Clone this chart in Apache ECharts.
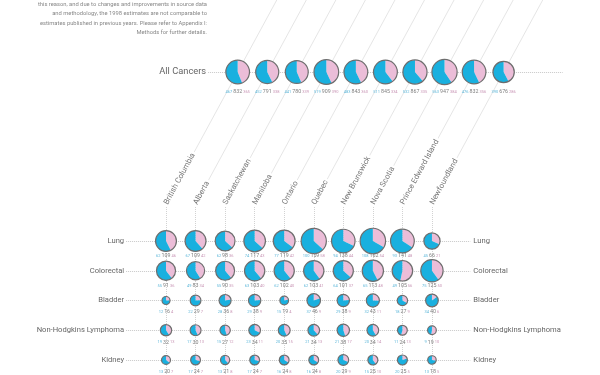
<!DOCTYPE html>
<html>
<head>
<meta charset="utf-8">
<script src="https://cdn.jsdelivr.net/npm/echarts@6/dist/echarts.min.js"></script>
<style>
  html, body { margin: 0; padding: 0; background: #fff; }
  #chart { width: 600px; height: 375px; }
</style>
</head>
<body>
<div id="chart"></div>
<script>
// provinces, west to east
const provinces = ['British Columbia', 'Alberta', 'Saskatchewan', 'Manitoba', 'Ontario', 'Quebec',
  'New Brunswick', 'Nova Scotia', 'Prince Edward Island', 'Newfoundland'];
const cancers = ['Lung', 'Colorectal', 'Bladder', 'Non-Hodgkins Lymphoma', 'Kidney'];

// rates: male / total / female
const allMale = [467, 452, 441, 519, 483, 511, 532, 563, 476, 390];
const allTotal = [832, 791, 780, 909, 843, 845, 867, 947, 832, 676];
const allFemale = [365, 338, 339, 390, 360, 334, 335, 384, 356, 286];

const lungMale = [62, 67, 62, 74, 77, 100, 94, 108, 93, 45];
const lungTotal = [109, 109, 98, 117, 119, 159, 138, 162, 141, 66];
const lungFemale = [46, 42, 36, 43, 42, 58, 44, 54, 48, 21];

const colorectalMale = [55, 49, 55, 63, 62, 62, 64, 65, 49, 75];
const colorectalTotal = [91, 83, 90, 103, 102, 103, 101, 113, 105, 125];
const colorectalFemale = [36, 34, 35, 40, 40, 41, 37, 48, 56, 50];

const bladderMale = [12, 22, 28, 29, 15, 37, 29, 32, 18, 34];
const bladderTotal = [16, 29, 36, 38, 19, 46, 38, 43, 27, 40];
const bladderFemale = [4, 7, 8, 9, 4, 9, 9, 11, 9, 6];

const nhlMale = [19, 17, 15, 23, 20, 21, 21, 20, 11, 9];
const nhlTotal = [32, 30, 27, 34, 35, 34, 38, 34, 24, 19];
const nhlFemale = [13, 13, 12, 11, 15, 13, 17, 14, 13, 10];

const kidneyMale = [13, 17, 13, 17, 16, 16, 20, 15, 20, 13];
const kidneyTotal = [20, 24, 21, 24, 24, 24, 29, 25, 25, 18];
const kidneyFemale = [7, 7, 8, 7, 8, 8, 9, 10, 5, 5];

const noteLines = [
  'this reason, and due to changes and improvements in source data',
  'and methodology, the 1998 estimates are not comparable to',
  'estimates published in previous years. Please refer to Appendix I:',
  'Methods for further details.'
];

// layout
const BLUE = '#19b0df';
const PINK = '#ebbdd8';
const colStep = 29.55;
const col0 = 166;
const labelBaseY = 204;
const allRowY = 72;
const tilt = 61.5 * Math.PI / 180;
const shift = (labelBaseY - allRowY) / Math.tan(tilt);
const rowLabelGap = [15, 15, 11, 12, 12];
const font = 'Roboto, "Liberation Sans", sans-serif';

const rows = [
  [lungMale, lungTotal, lungFemale],
  [colorectalMale, colorectalTotal, colorectalFemale],
  [bladderMale, bladderTotal, bladderFemale],
  [nhlMale, nhlTotal, nhlFemale],
  [kidneyMale, kidneyTotal, kidneyFemale]
];

const rowData = [];
rows.forEach((r, j) => {
  provinces.forEach((p, i) => rowData.push([i, j, r[0][i], r[1][i], r[2][i]]));
});
const allData = provinces.map((p, i) => [i, 0, allMale[i], allTotal[i], allFemale[i]]);

function pieRenderer(scale, gap) {
  return function (params, api) {
    const c = api.coord([api.value(0), api.value(1)]);
    const m = api.value(2), t = api.value(3), f = api.value(4);
    const r = scale * Math.sqrt(t);
    const a0 = -Math.PI / 2;
    const a1 = a0 + 2 * Math.PI * f / (m + f);
    return {
      type: 'group',
      children: [
        { type: 'sector', shape: { cx: c[0], cy: c[1], r: r, startAngle: a0, endAngle: a1, clockwise: true },
          style: { fill: PINK } },
        { type: 'sector', shape: { cx: c[0], cy: c[1], r: r, startAngle: a1, endAngle: a0 + 2 * Math.PI, clockwise: true },
          style: { fill: BLUE } },
        { type: 'circle', shape: { cx: c[0], cy: c[1], r: r },
          style: { fill: 'none', stroke: '#6e6e6e', lineWidth: 1.2 } },
        { type: 'text', x: c[0], y: c[1] + gap(api.value(1)),
          style: {
            text: '{m|' + m + ' }{t|' + t + '}{f| ' + f + '}',
            align: 'center', verticalAlign: 'middle', fontFamily: font, fontSize: 4,
            rich: {
              m: { fill: '#5fb8da', fontSize: 4, fontFamily: font },
              t: { fill: '#808080', fontSize: 5.3, fontFamily: font },
              f: { fill: '#c996b6', fontSize: 4, fontFamily: font }
            }
          } }
      ]
    };
  };
}

const chart = echarts.init(document.getElementById('chart'));

const option = {
  animation: false,
  backgroundColor: '#fff',
  textStyle: { fontFamily: font },
  graphic: noteLines.map((s, k) => ({
    type: 'text', right: 393, top: 1.5 + k * 9.3,
    style: { text: s, fill: '#888', fontSize: 5.8, fontFamily: font, align: 'right' }
  })),
  grid: [
    { // cancer rows
      left: col0 - 1.35 * colStep, width: 11.65 * colStep, top: 241, height: 119,
      outerBoundsMode: 'none', containLabel: false
    },
    { // province labels + vertical guides
      left: col0, width: 9 * colStep, top: labelBaseY + 3, height: 375 - labelBaseY - 3,
      outerBoundsMode: 'none', containLabel: false
    },
    { // all cancers
      left: col0 + shift - colStep, width: 12 * colStep, top: allRowY - 15, height: 30,
      outerBoundsMode: 'none', containLabel: false
    }
  ],
  xAxis: [
    { gridIndex: 0, type: 'value', min: -1.35, max: 10.3, show: false },
    {
      gridIndex: 1, type: 'category', data: provinces, boundaryGap: false, position: 'top',
      axisLine: { show: false }, axisTick: { show: false },
      axisLabel: {
        rotate: 61.5, margin: 3, interval: 0, color: '#777', fontSize: 7.8, fontFamily: font,
        backgroundColor: '#fff', padding: [0, 2, 0, 0]
      },
      splitLine: { show: true, interval: 0, lineStyle: { type: 'dotted', color: '#d2d2d2', width: 1 } }
    },
    { gridIndex: 2, type: 'value', min: -1, max: 11, show: false }
  ],
  yAxis: [
    {
      gridIndex: 0, type: 'category', data: cancers, boundaryGap: false, inverse: true,
      axisLine: { show: false }, axisTick: { show: false },
      axisLabel: { margin: 2, color: '#666', fontSize: 7.6, fontFamily: font, interval: 0 },
      splitLine: { show: true, interval: 0, lineStyle: { type: 'dotted', color: '#c8c8c8', width: 1 } }
    },
    {
      gridIndex: 0, type: 'category', data: cancers, boundaryGap: false, inverse: true, position: 'right',
      axisLine: { show: false }, axisTick: { show: false },
      axisLabel: { margin: 3, color: '#666', fontSize: 7.6, fontFamily: font, interval: 0 },
      splitLine: { show: false }
    },
    { gridIndex: 1, type: 'value', min: 0, max: 1, show: false },
    {
      gridIndex: 2, type: 'value', min: -1, max: 1, interval: 1,
      axisLine: { show: false }, axisTick: { show: false },
      axisLabel: {
        margin: 2, color: '#666', fontSize: 9.3, fontFamily: font,
        formatter: v => (v === 0 ? 'All Cancers' : '')
      },
      splitLine: {
        show: true, showMinLine: false, showMaxLine: false,
        lineStyle: { type: 'dotted', color: '#c8c8c8', width: 1 }
      }
    }
  ],
  series: [
    { // diagonal leaders from province labels up through all-cancer pies
      type: 'custom', xAxisIndex: 1, yAxisIndex: 2, z: -1, silent: true,
      data: provinces.map((p, i) => [i]),
      renderItem: (params, api) => {
        const p = api.coord([api.value(0), 1]);
        const y0 = p[1] - 3;
        return {
          type: 'line',
          shape: { x1: p[0], y1: y0, x2: p[0] + y0 / Math.tan(tilt), y2: 0 },
          style: { stroke: '#e2e2e2', lineWidth: 0.9 }
        };
      }
    },
    {
      type: 'custom', xAxisIndex: 2, yAxisIndex: 3,
      data: allData,
      renderItem: pieRenderer(0.41, () => 20)
    },
    {
      type: 'custom', xAxisIndex: 0, yAxisIndex: 0,
      data: rowData,
      renderItem: pieRenderer(1.0, j => rowLabelGap[j])
    }
  ]
};

chart.setOption(option);
</script>
</body>
</html>
